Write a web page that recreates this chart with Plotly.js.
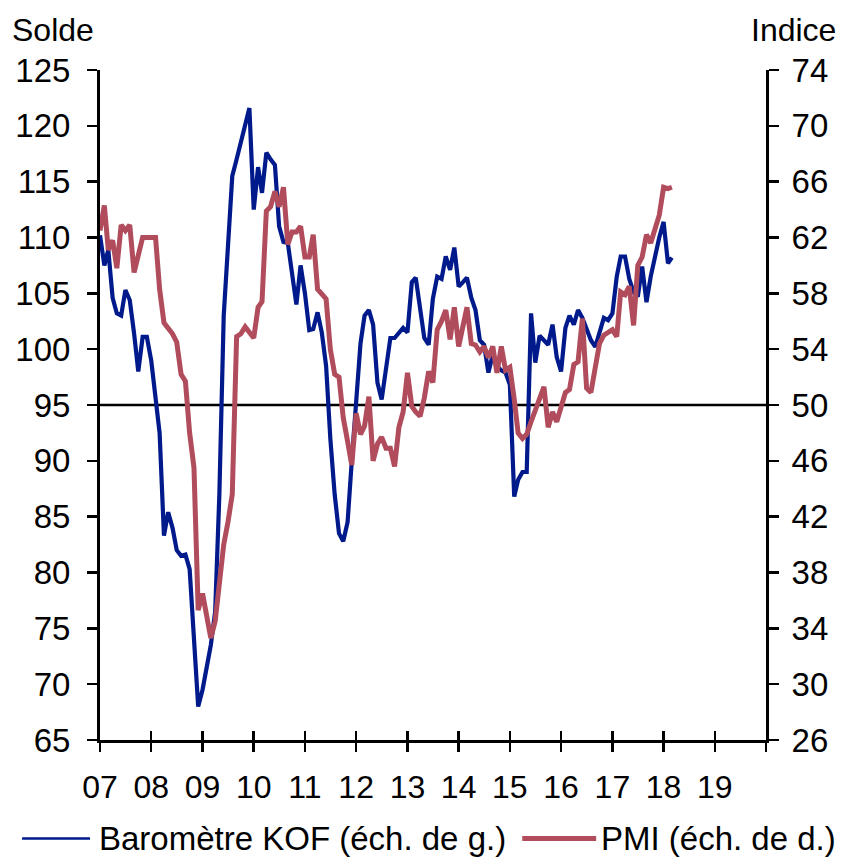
<!DOCTYPE html>
<html>
<head>
<meta charset="utf-8">
<script src="https://cdn.plot.ly/plotly-3.0.1.min.js"></script>
<style>html,body{margin:0;padding:0;background:#fff;}#chart{width:843px;height:858px;}</style>
</head>
<body>
<div id="chart"></div>
<script>
// Monthly data, Jan 2007 onwards
const startYear = 2007;
const kof = [
  110.2, 107.5, 108.9, 104.6, 103.2, 103.0, 105.3, 104.4, 101.4, 98.0, 101.1, 101.1,
  99.0, 96.0, 92.5, 83.3, 85.4, 84.0, 82.0, 81.5, 81.6, 80.3, 74.5, 68.0,
  69.5, 71.5, 73.5, 76.5, 87.0, 103.0, 110.0, 115.5, 117.0, 118.5, 120.0, 121.6,
  112.5, 116.3, 114.0, 117.6, 117.0, 116.5, 111.0, 109.6, 109.5, 106.5, 104.0, 107.5,
  105.0, 101.7, 101.8, 103.3, 101.5, 98.5, 92.0, 87.0, 83.5, 82.8, 84.5, 90.0,
  95.5, 100.5, 103.0, 103.5, 102.2, 97.0, 95.5, 98.5, 101.0, 101.0, 101.5, 101.9,
  101.5, 106.0, 106.4, 103.5, 101.0, 100.4, 104.5, 106.5, 106.3, 108.3, 107.1, 109.1,
  105.6, 106.0, 106.4, 104.6, 103.5, 100.8, 100.4, 97.9, 99.5, 98.5, 98.1, 97.9,
  96.8, 86.8, 88.3, 89.0, 89.0, 103.2, 98.8, 101.2, 100.8, 100.4, 102.2, 99.3,
  98.0, 101.9, 103.0, 102.2, 103.5, 102.8, 101.8, 100.8, 100.2, 101.5, 102.8, 102.6,
  103.2, 106.5, 108.3, 108.3, 106.3, 105.1, 104.7, 107.4, 104.2, 106.5, 108.5, 110.0,
  111.4, 107.7, 108.2
];
const pmi = [
  62.5, 64.3, 61.1, 61.8, 59.8, 62.9, 62.5, 62.9, 59.5, 60.8, 62.0, 62.0,
  62.0, 62.0, 58.3, 55.9, 55.5, 55.1, 54.5, 52.2, 51.7, 48.0, 45.5, 35.3,
  36.5, 35.0, 33.3, 34.5, 37.5, 40.0, 41.6, 43.6, 54.9, 55.1, 55.6, 55.2,
  54.8, 57.0, 57.4, 63.9, 64.2, 65.3, 64.2, 65.6, 61.5, 62.4, 62.4, 62.8,
  60.6, 60.6, 62.2, 58.3, 58.0, 57.6, 54.0, 52.2, 52.0, 49.1, 47.4, 45.7,
  49.4, 47.9, 48.5, 50.6, 46.0, 47.2, 47.7, 46.9, 46.9, 45.6, 48.4, 49.5,
  52.3, 49.9, 49.5, 49.2, 50.5, 52.4, 51.6, 55.4, 56.0, 56.8, 54.7, 57.0,
  54.2, 55.5, 57.0, 54.4, 54.3, 53.8, 54.2, 53.4, 54.2, 52.3, 54.2, 52.5,
  52.7, 50.4, 48.0, 47.6, 47.9, 48.8, 49.6, 50.5, 51.3, 48.4, 49.5, 48.8,
  49.8, 50.9, 51.1, 52.9, 53.1, 56.2, 51.2, 50.9, 52.7, 54.4, 55.0, 55.2,
  55.4, 54.9, 58.1, 57.9, 58.5, 55.7, 60.0, 60.6, 62.2, 61.6, 62.5, 63.6,
  65.6, 65.5, 65.6
];
const yearTicks = ['07','08','09','10','11','12','13','14','15','16','17','18','19',''];
const kofName = 'Baromètre KOF (éch. de g.)';
const pmiName = 'PMI (éch. de d.)';

function monthDates(n) {
  const out = [];
  for (let i = 0; i < n; i++) {
    const y = startYear + Math.floor(i / 12);
    const m = (i % 12) + 1;
    out.push(y + '-' + (m < 10 ? '0' + m : m) + '-01');
  }
  return out;
}
const tickVals = yearTicks.map((_, i) => (startYear + i) + '-01-01');

const FONT = 'Liberation Sans, Arial, sans-serif';
const KOF_C = '#001a8c';
const PMI_C = '#b04c5c';

const traces = [
  {x: monthDates(kof.length), y: kof, type: 'scatter', mode: 'lines', name: kofName,
   line: {color: KOF_C, width: 4.2}, xaxis: 'x', yaxis: 'y', showlegend: false, hoverinfo: 'skip'},
  {x: monthDates(pmi.length), y: pmi, type: 'scatter', mode: 'lines', name: pmiName,
   line: {color: PMI_C, width: 5}, xaxis: 'x', yaxis: 'y2', showlegend: false, hoverinfo: 'skip'},
  {x: [null], y: [null], type: 'scatter', mode: 'lines', xaxis: 'x2', yaxis: 'y', showlegend: false, hoverinfo: 'skip'}
];

const axisCommon = {
  showgrid: false, zeroline: false, showline: true, linecolor: '#000', linewidth: 3,
  ticks: 'outside', ticklen: 10, tickwidth: 2.5, tickcolor: '#000',
  tickfont: {family: FONT, size: 32, color: '#000'}
};

// legend drawn as decoration in paper coordinates (plot: x 100..766, y 70..740 px)
const legY = -0.147;
const layout = {
  width: 843, height: 858,
  margin: {l: 100, r: 77, t: 70, b: 118},
  paper_bgcolor: '#fff', plot_bgcolor: '#fff',
  font: {family: FONT, size: 32, color: '#000'},
  showlegend: false,
  xaxis: Object.assign({}, axisCommon, {
    type: 'date', range: ['2007-01-01', '2020-01-01'],
    tickmode: 'array', tickvals: tickVals, ticktext: yearTicks,
    ticklen: 9, ticklabelstandoff: 8
  }),
  xaxis2: {
    type: 'date', range: ['2007-01-01', '2020-01-01'], overlaying: 'x', anchor: 'y',
    tickmode: 'array', tickvals: tickVals, ticks: 'inside', ticklen: 9, tickwidth: 2.5,
    tickcolor: '#000', showticklabels: false, showline: false, showgrid: false, zeroline: false
  },
  yaxis: Object.assign({}, axisCommon, {
    range: [65, 125], tick0: 65, dtick: 5, ticklabelstandoff: 10,
    tickfont: {family: FONT, size: 33, color: '#000'}
  }),
  yaxis2: Object.assign({}, axisCommon, {
    range: [26, 74], tick0: 26, dtick: 4, overlaying: 'y', side: 'right', ticklabelstandoff: 6,
    tickfont: {family: FONT, size: 33, color: '#000'}
  }),
  shapes: [
    {type: 'line', xref: 'paper', x0: 0, x1: 1, yref: 'y', y0: 95, y1: 95,
     line: {color: '#000', width: 2.5}, layer: 'below'},
    {type: 'line', xref: 'paper', yref: 'paper', x0: -0.117, x1: -0.015, y0: legY, y1: legY,
     line: {color: KOF_C, width: 2.5}},
    {type: 'line', xref: 'paper', yref: 'paper', x0: 0.634, x1: 0.745, y0: legY, y1: legY,
     line: {color: PMI_C, width: 5}}
  ],
  annotations: [
    {text: 'Solde', xref: 'paper', yref: 'paper', x: -0.135, y: 1.06, xanchor: 'left', yanchor: 'middle',
     showarrow: false, font: {family: FONT, size: 32, color: '#000'}},
    {text: 'Indice', xref: 'paper', yref: 'paper', x: 1.108, y: 1.06, xanchor: 'right', yanchor: 'middle',
     showarrow: false, font: {family: FONT, size: 32, color: '#000'}},
    {text: kofName, xref: 'paper', yref: 'paper', x: -0.004, y: legY, xanchor: 'left', yanchor: 'middle',
     showarrow: false, font: {family: FONT, size: 33, color: '#000'}},
    {text: pmiName, xref: 'paper', yref: 'paper', x: 0.749, y: legY, xanchor: 'left', yanchor: 'middle',
     showarrow: false, font: {family: FONT, size: 33, color: '#000'}}
  ]
};

Plotly.newPlot('chart', traces, layout, {staticPlot: true, displayModeBar: false});
</script>
</body>
</html>
